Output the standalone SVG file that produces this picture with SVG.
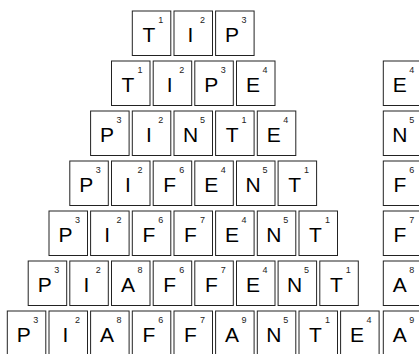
<svg xmlns="http://www.w3.org/2000/svg" width="419" height="354" viewBox="0 0 419 354">
<style>
rect{fill:#fff;stroke:#222;stroke-width:1}
.l{font-family:"Liberation Sans",Arial,sans-serif;font-size:21px;fill:#000;text-anchor:middle}
.n{font-family:"Liberation Sans",Arial,sans-serif;font-size:9px;fill:#222;text-anchor:middle}
</style>
<rect x="0" y="0" width="419" height="354" style="stroke:none"/>
<g id="row1">
<g id="r1t1" transform="translate(132.3,11)"><rect width="38.5" height="44.5"/><text class="l" x="16.5" y="31">T</text><text class="n" x="28.5" y="12">1</text></g>
<g id="r1t2" transform="translate(174,11)"><rect width="38.5" height="44.5"/><text class="l" x="16.5" y="31">I</text><text class="n" x="28.5" y="12">2</text></g>
<g id="r1t3" transform="translate(215.6,11)"><rect width="38.5" height="44.5"/><text class="l" x="16.5" y="31">P</text><text class="n" x="28.5" y="12">3</text></g>
</g>
<g id="row2">
<g id="r2t1" transform="translate(111.5,61)"><rect width="38.5" height="44.5"/><text class="l" x="16.5" y="31">T</text><text class="n" x="28.5" y="12">1</text></g>
<g id="r2t2" transform="translate(153.2,61)"><rect width="38.5" height="44.5"/><text class="l" x="16.5" y="31">I</text><text class="n" x="28.5" y="12">2</text></g>
<g id="r2t3" transform="translate(194.8,61)"><rect width="38.5" height="44.5"/><text class="l" x="16.5" y="31">P</text><text class="n" x="28.5" y="12">3</text></g>
<g id="r2t4" transform="translate(236.5,61)"><rect width="38.5" height="44.5"/><text class="l" x="16.5" y="31">E</text><text class="n" x="28.5" y="12">4</text></g>
<g id="r2x" transform="translate(383.3,61)"><rect width="38.5" height="44.5"/><text class="l" x="16.5" y="31">E</text><text class="n" x="28.5" y="12">4</text></g>
</g>
<g id="row3">
<g id="r3t1" transform="translate(90.6,111)"><rect width="38.5" height="44.5"/><text class="l" x="16.5" y="31">P</text><text class="n" x="28.5" y="12">3</text></g>
<g id="r3t2" transform="translate(132.3,111)"><rect width="38.5" height="44.5"/><text class="l" x="16.5" y="31">I</text><text class="n" x="28.5" y="12">2</text></g>
<g id="r3t3" transform="translate(174,111)"><rect width="38.5" height="44.5"/><text class="l" x="16.5" y="31">N</text><text class="n" x="28.5" y="12">5</text></g>
<g id="r3t4" transform="translate(215.6,111)"><rect width="38.5" height="44.5"/><text class="l" x="16.5" y="31">T</text><text class="n" x="28.5" y="12">1</text></g>
<g id="r3t5" transform="translate(257.3,111)"><rect width="38.5" height="44.5"/><text class="l" x="16.5" y="31">E</text><text class="n" x="28.5" y="12">4</text></g>
<g id="r3x" transform="translate(383.3,111)"><rect width="38.5" height="44.5"/><text class="l" x="16.5" y="31">N</text><text class="n" x="28.5" y="12">5</text></g>
</g>
<g id="row4">
<g id="r4t1" transform="translate(69.8,161)"><rect width="38.5" height="44.5"/><text class="l" x="16.5" y="31">P</text><text class="n" x="28.5" y="12">3</text></g>
<g id="r4t2" transform="translate(111.5,161)"><rect width="38.5" height="44.5"/><text class="l" x="16.5" y="31">I</text><text class="n" x="28.5" y="12">2</text></g>
<g id="r4t3" transform="translate(153.2,161)"><rect width="38.5" height="44.5"/><text class="l" x="16.5" y="31">F</text><text class="n" x="28.5" y="12">6</text></g>
<g id="r4t4" transform="translate(194.8,161)"><rect width="38.5" height="44.5"/><text class="l" x="16.5" y="31">E</text><text class="n" x="28.5" y="12">4</text></g>
<g id="r4t5" transform="translate(236.5,161)"><rect width="38.5" height="44.5"/><text class="l" x="16.5" y="31">N</text><text class="n" x="28.5" y="12">5</text></g>
<g id="r4t6" transform="translate(278.1,161)"><rect width="38.5" height="44.5"/><text class="l" x="16.5" y="31">T</text><text class="n" x="28.5" y="12">1</text></g>
<g id="r4x" transform="translate(383.3,161)"><rect width="38.5" height="44.5"/><text class="l" x="16.5" y="31">F</text><text class="n" x="28.5" y="12">6</text></g>
</g>
<g id="row5">
<g id="r5t1" transform="translate(49,211)"><rect width="38.5" height="44.5"/><text class="l" x="16.5" y="31">P</text><text class="n" x="28.5" y="12">3</text></g>
<g id="r5t2" transform="translate(90.6,211)"><rect width="38.5" height="44.5"/><text class="l" x="16.5" y="31">I</text><text class="n" x="28.5" y="12">2</text></g>
<g id="r5t3" transform="translate(132.3,211)"><rect width="38.5" height="44.5"/><text class="l" x="16.5" y="31">F</text><text class="n" x="28.5" y="12">6</text></g>
<g id="r5t4" transform="translate(174,211)"><rect width="38.5" height="44.5"/><text class="l" x="16.5" y="31">F</text><text class="n" x="28.5" y="12">7</text></g>
<g id="r5t5" transform="translate(215.6,211)"><rect width="38.5" height="44.5"/><text class="l" x="16.5" y="31">E</text><text class="n" x="28.5" y="12">4</text></g>
<g id="r5t6" transform="translate(257.3,211)"><rect width="38.5" height="44.5"/><text class="l" x="16.5" y="31">N</text><text class="n" x="28.5" y="12">5</text></g>
<g id="r5t7" transform="translate(299,211)"><rect width="38.5" height="44.5"/><text class="l" x="16.5" y="31">T</text><text class="n" x="28.5" y="12">1</text></g>
<g id="r5x" transform="translate(383.3,211)"><rect width="38.5" height="44.5"/><text class="l" x="16.5" y="31">F</text><text class="n" x="28.5" y="12">7</text></g>
</g>
<g id="row6">
<g id="r6t1" transform="translate(28.2,261)"><rect width="38.5" height="44.5"/><text class="l" x="16.5" y="31">P</text><text class="n" x="28.5" y="12">3</text></g>
<g id="r6t2" transform="translate(69.8,261)"><rect width="38.5" height="44.5"/><text class="l" x="16.5" y="31">I</text><text class="n" x="28.5" y="12">2</text></g>
<g id="r6t3" transform="translate(111.5,261)"><rect width="38.5" height="44.5"/><text class="l" x="16.5" y="31">A</text><text class="n" x="28.5" y="12">8</text></g>
<g id="r6t4" transform="translate(153.2,261)"><rect width="38.5" height="44.5"/><text class="l" x="16.5" y="31">F</text><text class="n" x="28.5" y="12">6</text></g>
<g id="r6t5" transform="translate(194.8,261)"><rect width="38.5" height="44.5"/><text class="l" x="16.5" y="31">F</text><text class="n" x="28.5" y="12">7</text></g>
<g id="r6t6" transform="translate(236.5,261)"><rect width="38.5" height="44.5"/><text class="l" x="16.5" y="31">E</text><text class="n" x="28.5" y="12">4</text></g>
<g id="r6t7" transform="translate(278.1,261)"><rect width="38.5" height="44.5"/><text class="l" x="16.5" y="31">N</text><text class="n" x="28.5" y="12">5</text></g>
<g id="r6t8" transform="translate(319.8,261)"><rect width="38.5" height="44.5"/><text class="l" x="16.5" y="31">T</text><text class="n" x="28.5" y="12">1</text></g>
<g id="r6x" transform="translate(383.3,261)"><rect width="38.5" height="44.5"/><text class="l" x="16.5" y="31">A</text><text class="n" x="28.5" y="12">8</text></g>
</g>
<g id="row7">
<g id="r7t1" transform="translate(7.3,311)"><rect width="38.5" height="44.5"/><text class="l" x="16.5" y="31">P</text><text class="n" x="28.5" y="12">3</text></g>
<g id="r7t2" transform="translate(49,311)"><rect width="38.5" height="44.5"/><text class="l" x="16.5" y="31">I</text><text class="n" x="28.5" y="12">2</text></g>
<g id="r7t3" transform="translate(90.6,311)"><rect width="38.5" height="44.5"/><text class="l" x="16.5" y="31">A</text><text class="n" x="28.5" y="12">8</text></g>
<g id="r7t4" transform="translate(132.3,311)"><rect width="38.5" height="44.5"/><text class="l" x="16.5" y="31">F</text><text class="n" x="28.5" y="12">6</text></g>
<g id="r7t5" transform="translate(174,311)"><rect width="38.5" height="44.5"/><text class="l" x="16.5" y="31">F</text><text class="n" x="28.5" y="12">7</text></g>
<g id="r7t6" transform="translate(215.6,311)"><rect width="38.5" height="44.5"/><text class="l" x="16.5" y="31">A</text><text class="n" x="28.5" y="12">9</text></g>
<g id="r7t7" transform="translate(257.3,311)"><rect width="38.5" height="44.5"/><text class="l" x="16.5" y="31">N</text><text class="n" x="28.5" y="12">5</text></g>
<g id="r7t8" transform="translate(299,311)"><rect width="38.5" height="44.5"/><text class="l" x="16.5" y="31">T</text><text class="n" x="28.5" y="12">1</text></g>
<g id="r7t9" transform="translate(340.6,311)"><rect width="38.5" height="44.5"/><text class="l" x="16.5" y="31">E</text><text class="n" x="28.5" y="12">4</text></g>
<g id="r7x" transform="translate(383.3,311)"><rect width="38.5" height="44.5"/><text class="l" x="16.5" y="31">A</text><text class="n" x="28.5" y="12">9</text></g>
</g>
</svg>
